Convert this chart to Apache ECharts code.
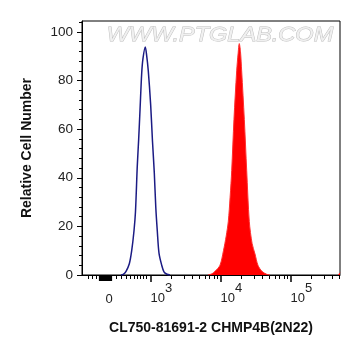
<!DOCTYPE html>
<html>
<head>
<meta charset="utf-8">
<script src="https://cdn.jsdelivr.net/npm/echarts@6/dist/echarts.min.js"></script>
<style>
  html, body { margin: 0; padding: 0; background: #fff; }
  #chart { width: 361px; height: 356px; }
</style>
</head>
<body>
<div id="chart"></div>
<script>
// x positions are in decades (log10 of intensity), the axis left of 10^3 is the
// compressed biexponential part so those positions are read off the picture
var blueHist = [
  [2.577, 0], [2.610, 0.3], [2.649, 1.5], [2.696, 4.6], [2.730, 10], [2.763, 18.2],
  [2.784, 26], [2.810, 45], [2.830, 56], [2.849, 68], [2.873, 83], [2.891, 89],
  [2.924, 93.8], [2.941, 91], [2.967, 84], [3.001, 70], [3.027, 55], [3.053, 42],
  [3.074, 28], [3.096, 18], [3.120, 9], [3.159, 4], [3.191, 1.3], [3.234, 0.3], [3.277, 0]
];
var redHist = [
  [3.820, 0], [3.877, 0.5], [3.920, 1.5], [3.991, 4], [4.041, 10], [4.080, 16],
  [4.110, 22], [4.136, 32], [4.159, 43], [4.191, 64], [4.230, 84], [4.250, 91],
  [4.267, 95.2], [4.284, 92], [4.301, 84], [4.339, 64], [4.373, 43], [4.410, 22],
  [4.450, 13], [4.491, 8.7], [4.534, 4], [4.591, 1.5], [4.659, 0.3], [4.706, 0],
  [4.9, '-'],
  [5.680, 0], [5.706, 0.9]
];

var decadeTicks = [3, 4, 5];
var zeroPos = 2.406;
var lowTicks = [2.110, 2.173, 2.230, 2.516, 2.587, 2.659, 2.716, 2.767, 2.816, 2.859, 2.896, 2.934];
var zeroBlock = [2.262, 2.277, 2.292, 2.307, 2.322, 2.337, 2.352, 2.367, 2.382, 2.397, 2.412, 2.427, 2.442];
var yTicks = [0, 20, 40, 60, 80, 100];

var xMin = 2.02, xMax = 5.706;
var yMax = 104.5;

var logMinor = [];
for (var n = 3; n <= 5; n++) {
  for (var k = 2; k <= 9; k++) {
    var p = n + Math.log10(k);
    if (p <= xMax) logMinor.push(p);
  }
}
var minorTicks = lowTicks.concat(logMinor);

var yMinor = [];
for (var v = 4; v <= yMax; v += 4) {
  if (v % 20 !== 0) yMinor.push(v);
}

var font = '"Liberation Sans", Arial, sans-serif';
var txt = '#222';

var myChart = echarts.init(document.getElementById('chart'), null, { renderer: 'canvas' });

var option = {
  animation: false,
  backgroundColor: '#fff',
  grid: {
    left: 82, right: 21, top: 21, bottom: 81,
    show: true, borderColor: '#000', borderWidth: 1, backgroundColor: 'transparent'
  },
  graphic: [{
    type: 'text',
    x: 220, y: 35,
    scaleX: 1.12,
    z: -1,
    style: {
      text: 'WWW.PTGLAB.COM',
      font: 'italic 21px ' + font,
      fill: '#f0f0f0',
      stroke: '#bdbdbd',
      lineWidth: 0.9,
      textAlign: 'center',
      textVerticalAlign: 'middle'
    }
  }],
  xAxis: [{
    type: 'value', min: xMin, max: xMax, position: 'bottom',
    name: 'CL750-81691-2 CHMP4B(2N22)',
    nameLocation: 'middle', nameGap: 46,
    nameTextStyle: { fontFamily: font, fontWeight: 'bold', fontSize: 14, color: '#111' },
    axisLine: { show: true, lineStyle: { color: '#000', width: 1 } },
    axisTick: { show: true, customValues: decadeTicks, length: 7, lineStyle: { color: '#000', width: 1.5 } },
    axisLabel: {
      customValues: decadeTicks, align: 'left', margin: 7,
      formatter: function (val) { return '{b|10}{s|' + Math.round(val) + '}'; },
      rich: {
        b: { fontFamily: font, fontSize: 13, color: txt, padding: [10, 0, 0, 0] },
        s: { fontFamily: font, fontSize: 13, color: txt, padding: [0, 0, 10, 0] }
      }
    },
    splitLine: { show: false }
  }, {
    type: 'value', min: xMin, max: xMax, position: 'bottom',
    axisLine: { show: false },
    axisTick: { show: true, customValues: minorTicks, length: 4, lineStyle: { color: '#000', width: 1 } },
    axisLabel: { show: false },
    splitLine: { show: false }
  }, {
    type: 'value', min: xMin, max: xMax, position: 'bottom',
    axisLine: { show: false },
    axisTick: { show: true, customValues: zeroBlock, length: 6, lineStyle: { color: '#000', width: 1.2 } },
    axisLabel: {
      customValues: [zeroPos], margin: 18, fontFamily: font, fontSize: 13, color: txt,
      formatter: function () { return '0'; }
    },
    splitLine: { show: false }
  }],
  yAxis: [{
    type: 'value', min: 0, max: yMax, position: 'left',
    name: 'Relative Cell Number',
    nameLocation: 'middle', nameGap: 48,
    nameTextStyle: { fontFamily: font, fontWeight: 'bold', fontSize: 14, color: '#111' },
    axisLine: { show: true, lineStyle: { color: '#000', width: 1 } },
    axisTick: { show: true, customValues: yTicks, length: 5, lineStyle: { color: '#000' } },
    axisLabel: { customValues: yTicks, margin: 9, fontFamily: font, fontSize: 13.5, color: txt },
    splitLine: { show: false }
  }, {
    type: 'value', min: 0, max: yMax, position: 'left',
    axisLine: { show: false },
    axisTick: { show: true, customValues: yMinor, length: 3, lineStyle: { color: '#000' } },
    axisLabel: { show: false },
    splitLine: { show: false }
  }],
  series: [{
    name: 'control',
    type: 'line',
    data: blueHist,
    xAxisIndex: 0, yAxisIndex: 0,
    showSymbol: false, smooth: 0.3,
    lineStyle: { color: '#1b1b84', width: 1.5 },
    z: 3
  }, {
    name: 'CHMP4B',
    type: 'line',
    data: redHist,
    xAxisIndex: 0, yAxisIndex: 0,
    showSymbol: false, smooth: 0.3, connectNulls: false,
    lineStyle: { color: '#ff3030', width: 1 },
    areaStyle: { color: '#ff0000', opacity: 1 },
    z: 2
  }]
};

myChart.setOption(option);
</script>
</body>
</html>
